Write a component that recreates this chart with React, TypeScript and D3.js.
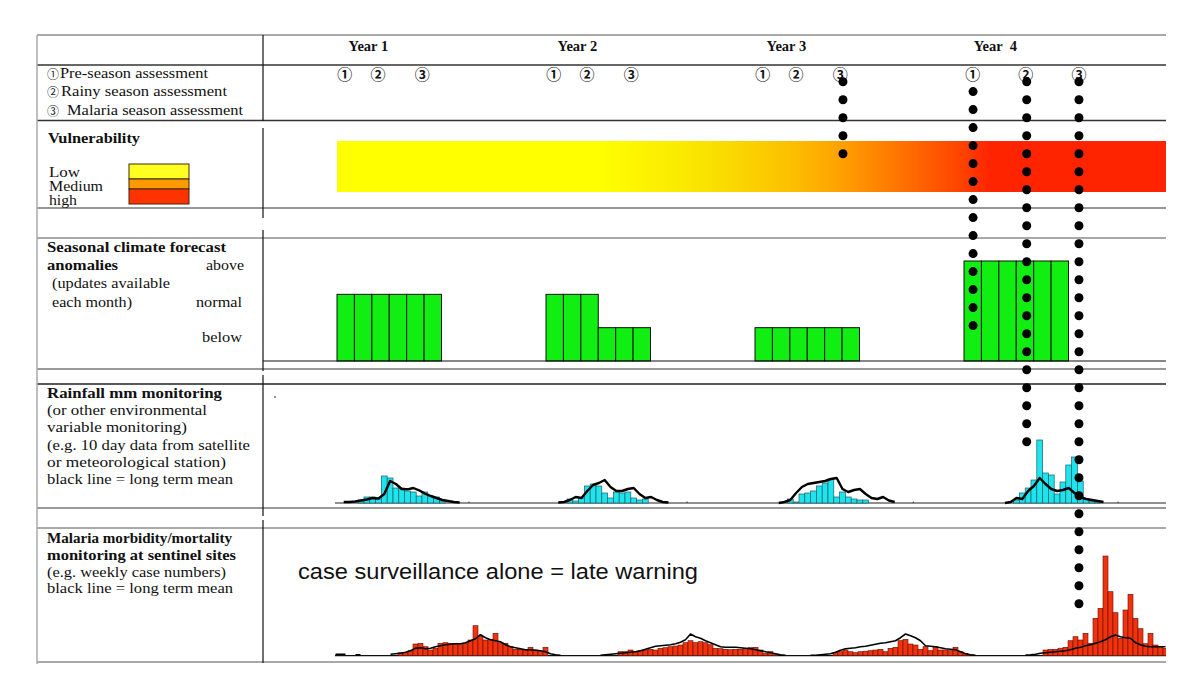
import React from 'react';
import * as d3 from 'd3';

// ---------------- data ----------------
const yearLabels = ['Year 1', 'Year 2', 'Year 3', 'Year  4'];
const assessmentSymbols = ['①', '②', '③'];
const assessmentLegend = ['Pre-season assessment', 'Rainy season assessment', 'Malaria season assessment'];
// assessment timing (months after start of each year)
const assessmentMonths = [
  [0.45, 2.35, 4.9],
  [0.45, 2.35, 4.9],
  [0.45, 2.35, 4.9],
  [0.5, 3.55, 6.6],
];

const vulnerabilityLevels = ['Low', 'Medium', 'high'];
const vulnerabilityColors = ['#ffff22', '#ff9900', '#ff3300'];
const vulnerabilityMonths = [0, 15, 21, 26, 29, 32.5, 36, 37.5, 48];
const vulnerabilityStopColors = ['#ffff00', '#ffff00', '#f9e400', '#fcc000', '#ffa000', '#ff7000', '#ff4000', '#ff2400', '#ff2400'];

// seasonal forecast anomaly, 1 = below, 2 = normal, 3 = above; months 0-5 of each year
const forecastLevels = ['below', 'normal', 'above'];
const forecastY1 = [2, 2, 2, 2, 2, 2];
const forecastY2 = [2, 2, 2, 1, 1, 1];
const forecastY3 = [1, 1, 1, 1, 1, 1];
const forecastY4 = [3, 3, 3, 3, 3, 3];

// rainfall, dekads (global index), mm
const rainStart = [4, 40, 78, 117];
const rainY1 = [3, 6, 6, 4, 27, 25, 15, 15, 12, 11, 7, 11, 7, 6, 2];
const rainY2 = [4, 2, 5, 17, 19, 17, 10, 5, 11, 10, 11, 5, 3, 4];
const rainY3 = [4, 1, 9, 10, 12, 17, 20, 24, 6, 11, 6, 4, 3, 3];
const rainY4 = [3, 10, 15, 23, 63, 30, 28, 9, 21, 38, 46, 22, 4, 1.5, 1];
const rainMeanStart = [1, 38, 76, 115];
const rainMeanY1 = [1, 1, 1.5, 2.5, 3.5, 5, 4.5, 9, 22, 19, 14, 13.7, 15, 12.7, 9.4, 7, 5, 3, 2, 1, 0.5];
const rainMeanY2 = [0.5, 1, 3, 6, 5, 12, 18, 20, 23, 16, 12, 12, 14, 15, 9, 5, 6, 3, 1, 0.5];
const rainMeanY3 = [0, 1, 3, 10, 16, 19, 20, 21, 22, 24, 25, 14, 11, 13, 14, 9, 5, 4, 6, 2.5, 1];
const rainMeanY4 = [0, 1, 5, 4, 12, 17, 25, 19, 14, 12, 13, 15, 10, 6, 4, 3, 2, 1];
const rainTicks = [23.1, 60.7, 99.7, 135];

// malaria weekly cases (global week index)
const malStart = [13, 57, 100, 142];
const malY1 = [3, 3, 5, 11.7, 12.4, 9, 5.7, 7.4, 12.4, 13, 12.4, 12, 11, 12, 15.7, 30, 19.7, 15.7, 16.4, 22.4, 13, 12.4, 9, 6.4, 6.4, 5.7, 8.4, 5.7, 4, 8.4];
const malY2 = [4, 4, 5.7, 4, 5, 5.7, 6.4, 5.7, 7.4, 8, 9, 9.7, 10.7, 13, 15, 13, 14, 13, 11, 7.4, 7, 6.4, 6, 6.4, 6.4, 7.4, 8, 8.4, 5.7, 2.4, 4, 1];
const malY3 = [3, 4, 5.7, 4, 3, 4, 4.5, 5, 5.7, 6.4, 4, 7.4, 8.4, 15, 16.4, 11.7, 10.7, 6.4, 9, 5, 9, 5.7, 5.7, 5, 8.4, 4, 2.4, 1];
const malY4 = [5.7, 6.4, 6.4, 7.5, 8.4, 15, 19, 15.7, 22.4, 12.4, 37.4, 47.4, 99.7, 64, 43, 17.4, 45.7, 61.4, 37.4, 27, 12, 22.4, 10.7, 9, 7.4];
const malMeanStart = [0, 53, 95, 138];
const malMeanY1 = [1.5, 1.5, 1.5, null, 1, 1, null, null, null, null, null, 1.5, 2, 2.5, 3.5, 5, 7.5, 8, 7, 7.5, 9, 10, 11, 11.5, 12, 12, 13, 15, 17, 21, 18, 16, 15, 14, 11, 9, 8, 7, 6, 6, 5.5, 5, 4, 2, 1, 0.5];
const malMeanY2 = [0.5, 1, 1.5, 2, 2.5, 3, 3.5, 4, 5, 6.5, 8, 9.5, 10, 10.5, 11, 12, 13.5, 16, 21.7, 19, 17.5, 15, 13, 11, 9, 8.5, 8.4, 8.4, 8, 7.5, 7, 6, 5, 4, 3, 2, 1, 0.5];
const malMeanY3 = [0.5, 0.5, 1, 1.5, 2, 3.5, 5.5, 7, 7.5, 8, 9, 9.5, 10.5, 11.5, 12.4, 13, 14, 15, 18, 21.7, 20, 18, 15, 10, 9.5, 9, 8, 7, 6.5, 6, 4, 2, 1, 0.5];
const malMeanY4 = [0.7, 1, 1.5, 2.5, 3, 3.5, 4, 4.5, 5, 6, 7.5, 8.5, 10, 11, 12.5, 14, 16, 19, 20.7, 19, 18, 17.4, 13, 11, 9.5, 9, 9, 9, 9];

// dotted "warning" lines: month, first dot offset, dot count
const warningMonths = [29.05, 36.52, 39.6, 42.6];
const warningFirst = [0, 0.55, 0, 0];
const warningCounts = [5, 14, 21, 30];

// ---------------- component ----------------
const SERIF = "'Liberation Serif', 'Times New Roman', serif";
const SANS = "'Liberation Sans', Arial, sans-serif";
const SYM = "'Noto Sans CJK JP', 'DejaVu Sans', sans-serif";

export default function App() {
  const LEFT = 37, SPLIT = 263, RIGHT = 1166;
  const xMonth = d3.scaleLinear().domain([0, 48]).range([337, 337 + 48 * 17.417]);
  const xDek = d3.scaleLinear().domain([0, 144]).range([335, 335 + 144 * 5.8]);
  const yRain = d3.scaleLinear().domain([0, 100]).range([503, 403]);
  const xWk = d3.scaleLinear().domain([0, 167]).range([333, 333 + 167 * 5]);
  const yMal = d3.scaleLinear().domain([0, 100]).range([655.7, 555.7]);
  const yLevel = d3.scaleLinear().domain([0, 3]).range([361, 261]);
  const yDot = d3.scaleLinear().domain([0, 1]).range([81.7, 99.7]);

  const forecast = [forecastY1, forecastY2, forecastY3, forecastY4];
  const rainBars = [rainY1, rainY2, rainY3, rainY4];
  const rainMeans = [rainMeanY1, rainMeanY2, rainMeanY3, rainMeanY4];
  const malBars = [malY1, malY2, malY3, malY4];
  const malMeans = [malMeanY1, malMeanY2, malMeanY3, malMeanY4];

  const rainLine = d3.line<[number, number]>()
    .x((d) => xDek(d[0] + 0.5)).y((d) => yRain(d[1]));
  const malLine = d3.line<[number, number | null]>()
    .defined((d) => d[1] != null)
    .x((d) => xWk(d[0] + 0.5)).y((d) => yMal(d[1] as number));

  const hRules = [
    { y: 35, c: '#8c8c8c', w: 1.5 },
    { y: 65, c: '#333', w: 1.3 },
    { y: 120.5, c: '#333', w: 1.3 },
    { y: 208, c: '#333', w: 1.2 },
    { y: 238, c: '#555', w: 1.2 },
    { y: 369, c: '#777', w: 1.3 },
    { y: 384, c: '#222', w: 1.3 },
    { y: 508, c: '#777', w: 1.3 },
    { y: 528, c: '#555', w: 1.2 },
    { y: 662, c: '#8c8c8c', w: 1.5 },
  ];
  const vSegs = [[35, 121], [128, 218], [230, 371], [375, 516], [520, 663]];

  type T = { t: string; x: number; y: number; w: number; b?: boolean; a?: 'start' | 'end' | 'middle'; fs?: number };
  const texts: T[] = [
    { t: 'Vulnerability', x: 48, y: 143, w: 92, b: true },
    { t: vulnerabilityLevels[0], x: 49, y: 177, w: 31 },
    { t: vulnerabilityLevels[1], x: 49, y: 191, w: 54 },
    { t: vulnerabilityLevels[2], x: 49, y: 205, w: 28 },
    { t: 'Seasonal climate forecast', x: 47, y: 252, w: 179, b: true },
    { t: 'anomalies', x: 47, y: 270, w: 71, b: true },
    { t: forecastLevels[2], x: 244, y: 270, w: 38, a: 'end' },
    { t: '(updates available', x: 52, y: 288, w: 118 },
    { t: 'each month)', x: 52, y: 307, w: 80 },
    { t: forecastLevels[1], x: 242, y: 307, w: 46, a: 'end' },
    { t: forecastLevels[0], x: 242, y: 342, w: 40, a: 'end' },
    { t: 'Rainfall mm monitoring', x: 47, y: 398, w: 175, b: true },
    { t: '(or other environmental', x: 47, y: 415, w: 160 },
    { t: 'variable monitoring)', x: 47, y: 432, w: 140 },
    { t: '(e.g. 10 day data from satellite', x: 47, y: 450, w: 203 },
    { t: 'or meteorological station)', x: 47, y: 467, w: 179 },
    { t: 'black line = long term mean', x: 47, y: 484, w: 186 },
    { t: 'Malaria morbidity/mortality', x: 47, y: 543, w: 185, b: true },
    { t: 'monitoring at sentinel sites', x: 47, y: 560, w: 189, b: true },
    { t: '(e.g. weekly case numbers)', x: 47, y: 577, w: 179 },
    { t: 'black line = long term mean', x: 47, y: 593, w: 186 },
    { t: assessmentLegend[0], x: 60, y: 78, w: 148 },
    { t: assessmentLegend[1], x: 61, y: 96, w: 166 },
    { t: assessmentLegend[2], x: 67, y: 115, w: 176 },
  ];

  return (
    <div style={{ position: 'absolute', left: 0, top: 0 }}>
      <svg width={1200} height={695} style={{ display: 'block', background: '#fff' }}>
        <defs>
          <linearGradient id="vuln" gradientUnits="userSpaceOnUse" x1={xMonth(0)} x2={xMonth(48)} y1={0} y2={0}>
            {vulnerabilityMonths.map((m, i) => (
              <stop key={i} offset={m / 48} stopColor={vulnerabilityStopColors[i]} />
            ))}
          </linearGradient>
          <clipPath id="plot">
            <rect x={SPLIT + 1} y={0} width={RIGHT - SPLIT - 1} height={695} />
          </clipPath>
        </defs>

        {/* vulnerability band */}
        <rect x={xMonth(0)} y={141} width={RIGHT - xMonth(0)} height={51} fill="url(#vuln)" />

        {/* legend boxes */}
        {vulnerabilityColors.map((c, i) => (
          <rect key={i} x={129} y={[164, 179, 189][i]} width={60} height={[15, 10, 15][i]} fill={c} stroke="#3a2a10" strokeWidth={1} />
        ))}

        {/* forecast bars */}
        <g clipPath="url(#plot)">
          {forecast.map((vals, yi) =>
            vals.map((v, m) => (
              <rect key={`f${yi}-${m}`} x={xMonth(yi * 12 + m)} y={yLevel(v)} width={xMonth(1) - xMonth(0)}
                height={yLevel(0) - yLevel(v)} fill="#11ee11" stroke="#111" strokeWidth={1} />
            ))
          )}
        </g>
        <line x1={SPLIT} x2={RIGHT} y1={361} y2={361} stroke="#111" strokeWidth={1} />

        {/* rainfall */}
        <g clipPath="url(#plot)">
          <line x1={xDek(0)} x2={RIGHT} y1={yRain(0)} y2={yRain(0)} stroke="#222" strokeWidth={1.2} />
          {rainTicks.map((t, i) => (
            <line key={i} x1={xDek(t)} x2={xDek(t)} y1={yRain(0)} y2={yRain(1.5)} stroke="#333" strokeWidth={1} />
          ))}
          {rainBars.map((vals, yi) =>
            vals.map((v, i) => (
              <rect key={`r${yi}-${i}`} x={xDek(rainStart[yi] + i)} y={yRain(v)} width={xDek(1) - xDek(0)}
                height={yRain(0) - yRain(v)} fill="#1ee4ee" stroke="#1d5f68" strokeWidth={0.7} />
            ))
          )}
          {rainMeans.map((vals, yi) => (
            <path key={`rm${yi}`} d={rainLine(vals.map((v, i) => [rainMeanStart[yi] + i, v] as [number, number])) || ''}
              fill="none" stroke="#000" strokeWidth={2.4} strokeLinejoin="round" />
          ))}
          <circle cx={275} cy={397} r={0.9} fill="#666" />
        </g>

        {/* malaria */}
        <g clipPath="url(#plot)">
          <line x1={xWk(0.4)} x2={RIGHT} y1={yMal(0)} y2={yMal(0)} stroke="#111" strokeWidth={1.2} />
          {malBars.map((vals, yi) =>
            vals.map((v, i) => (
              <rect key={`m${yi}-${i}`} x={xWk(malStart[yi] + i)} y={yMal(v)} width={xWk(1) - xWk(0)}
                height={yMal(0) - yMal(v)} fill="#f2320e" stroke="#5a1206" strokeWidth={0.6} />
            ))
          )}
          {malMeans.map((vals, yi) => (
            <path key={`mm${yi}`} d={malLine(vals.map((v, i) => [malMeanStart[yi] + i, v] as [number, number | null])) || ''}
              fill="none" stroke="#000" strokeWidth={1.6} strokeLinejoin="round" />
          ))}
        </g>

        {/* rules */}
        {hRules.map((r, i) => (
          <line key={`h${i}`} x1={LEFT} x2={RIGHT} y1={r.y} y2={r.y} stroke={r.c} strokeWidth={r.w} />
        ))}
        <line x1={LEFT} x2={LEFT} y1={35} y2={664} stroke="#aaa" strokeWidth={1.5} />
        {vSegs.map((s, i) => (
          <line key={`v${i}`} x1={SPLIT} x2={SPLIT} y1={s[0]} y2={s[1]} stroke="#111" strokeWidth={1.2} />
        ))}

        {/* header */}
        {yearLabels.map((t, i) => (
          <text key={`y${i}`} x={xMonth(i * 12 + 1.8)} y={51} textAnchor="middle" fontFamily={SERIF}
            fontWeight="bold" fontSize={14.5} fill="#111" style={{ whiteSpace: 'pre' }}>{t}</text>
        ))}
        {assessmentMonths.map((ms, yi) =>
          ms.map((m, k) => (
            <text key={`a${yi}-${k}`} x={xMonth(yi * 12 + m)} y={73} textAnchor="middle" dominantBaseline="central"
              fontFamily={SYM} fontSize={15} fontWeight="bold" fill="#111">{assessmentSymbols[k]}</text>
          ))
        )}
        {assessmentSymbols.map((s, k) => (
          <text key={`as${k}`} x={53} y={[73, 91, 110][k]} textAnchor="middle" dominantBaseline="central"
            fontFamily={SYM} fontSize={12} fill="#222">{s}</text>
        ))}

        {/* left labels */}
        {texts.map((d, i) => (
          <text key={`t${i}`} x={d.x} y={d.y} textAnchor={d.a || 'start'} fontFamily={SERIF}
            fontWeight={d.b ? 'bold' : 'normal'} fontSize={d.fs || 14} fill="#111"
            textLength={d.w} lengthAdjust="spacingAndGlyphs">{d.t}</text>
        ))}

        <text x={298} y={579} fontFamily={SANS} fontSize={22} fill="#111" textLength={400}
          lengthAdjust="spacingAndGlyphs">case surveillance alone = late warning</text>

        {/* warning dots */}
        {warningMonths.map((m, li) =>
          d3.range(warningCounts[li]).map((i) => (
            <circle key={`d${li}-${i}`} cx={xMonth(m)} cy={yDot(warningFirst[li] + i)} r={4.5} fill="#000" />
          ))
        )}
      </svg>
    </div>
  );
}
